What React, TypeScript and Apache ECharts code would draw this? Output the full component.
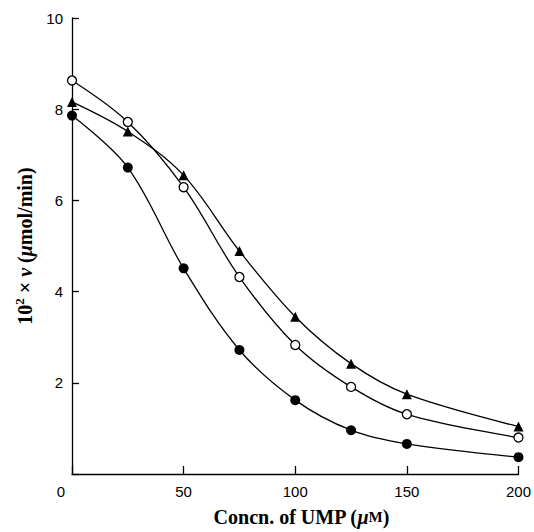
import React, { useEffect, useRef } from "react";
import * as echarts from "echarts";

const concentrations = [0, 25, 50, 75, 100, 125, 150, 200];
const openCircleValues = [8.63, 7.72, 6.29, 4.32, 2.83, 1.91, 1.31, 0.8];
const triangleValues = [8.16, 7.51, 6.55, 4.89, 3.45, 2.42, 1.75, 1.04];
const filledCircleValues = [7.86, 6.72, 4.51, 2.72, 1.62, 0.96, 0.66, 0.37];
const xTicks = [0, 50, 100, 150, 200];
const yTicks = [0, 2, 4, 6, 8, 10];

const pair = (vals: number[]) => concentrations.map((c, i) => [c, vals[i]]);

export default function App() {
  const ref = useRef<HTMLDivElement>(null);
  useEffect(() => {
    if (!ref.current) return;
    const chart = echarts.init(ref.current, null, { renderer: "svg" });
    const serif = "'Liberation Serif', 'Times New Roman', serif";
    const sans = "'Liberation Sans', Arial, sans-serif";
    const lineBase = {
      type: "line" as const,
      smooth: 0.35,
      lineStyle: { color: "#000", width: 1.3 },
      z: 2,
    };
    chart.setOption({
      animation: false,
      backgroundColor: "#fff",
      grid: { left: 72, right: 15.5, top: 18, bottom: 57, containLabel: false },
      xAxis: {
        type: "value",
        min: xTicks[0],
        max: xTicks[xTicks.length - 1],
        interval: 50,
        splitLine: { show: false },
        axisLine: { lineStyle: { color: "#000", width: 1.3 } },
        axisTick: { inside: true, length: 8, lineStyle: { color: "#000", width: 1.3 } },
        axisLabel: {
          color: "#000",
          fontFamily: sans,
          fontSize: 15,
          margin: 10,
          formatter: (v: number) => (v === 0 ? "{zero|0}" : String(v)),
          rich: { zero: { fontFamily: sans, fontSize: 15, color: "#000", padding: [0, 22, 0, 0] } },
        },
        name: "Concn. of UMP ({i|μ}{sc|M})",
        nameLocation: "middle",
        nameGap: 33,
        nameTextStyle: {
          color: "#000",
          fontFamily: serif,
          fontWeight: "bold",
          fontSize: 20,
          padding: [0, 0, 0, 12],
          rich: {
            i: { fontFamily: serif, fontStyle: "italic", fontWeight: "bold", fontSize: 20, color: "#000" },
            sc: { fontFamily: serif, fontWeight: "bold", fontSize: 15, color: "#000" },
          },
        },
      },
      yAxis: {
        type: "value",
        min: yTicks[0],
        max: yTicks[yTicks.length - 1],
        interval: 2,
        splitLine: { show: false },
        axisLine: { lineStyle: { color: "#000", width: 1.3 } },
        axisTick: { inside: true, length: 7, lineStyle: { color: "#000", width: 1.3 } },
        axisLabel: {
          color: "#000",
          fontFamily: sans,
          fontSize: 15,
          margin: 9,
          formatter: (v: number) => (v === 0 ? "" : String(v)),
        },
        name: "{n|10}{sup|2}{n| × }{i|v}{n| (}{i|μ}{n|mol/min)}",
        nameLocation: "middle",
        nameRotate: 90,
        nameGap: 37,
        nameTextStyle: {
          color: "#000",
          fontFamily: serif,
          fontWeight: "bold",
          fontSize: 20,
          lineHeight: 22,
          rich: {
            n: { fontFamily: serif, fontWeight: "bold", fontSize: 20, lineHeight: 22, color: "#000", verticalAlign: "bottom" },
            i: { fontFamily: serif, fontStyle: "italic", fontWeight: "bold", fontSize: 20, lineHeight: 22, color: "#000", verticalAlign: "bottom" },
            sup: { fontFamily: serif, fontWeight: "bold", fontSize: 13, lineHeight: 13, color: "#000", verticalAlign: "top" },
          },
        },
      },
      series: [
        {
          ...lineBase,
          name: "open",
          data: pair(openCircleValues),
          symbol: "circle",
          symbolSize: 9,
          itemStyle: { color: "#fff", borderColor: "#000", borderWidth: 1.3 },
        },
        {
          ...lineBase,
          name: "triangle",
          data: pair(triangleValues),
          symbol: "triangle",
          symbolSize: 10,
          itemStyle: { color: "#000", borderColor: "#000", borderWidth: 0 },
        },
        {
          ...lineBase,
          name: "filled",
          data: pair(filledCircleValues),
          symbol: "circle",
          symbolSize: 10,
          itemStyle: { color: "#000", borderColor: "#000", borderWidth: 0 },
        },
      ],
    });
    return () => chart.dispose();
  }, []);
  return (
    <div
      ref={ref}
      style={{ position: "fixed", left: 0, top: 0, width: 534, height: 532, background: "#fff" }}
    />
  );
}
